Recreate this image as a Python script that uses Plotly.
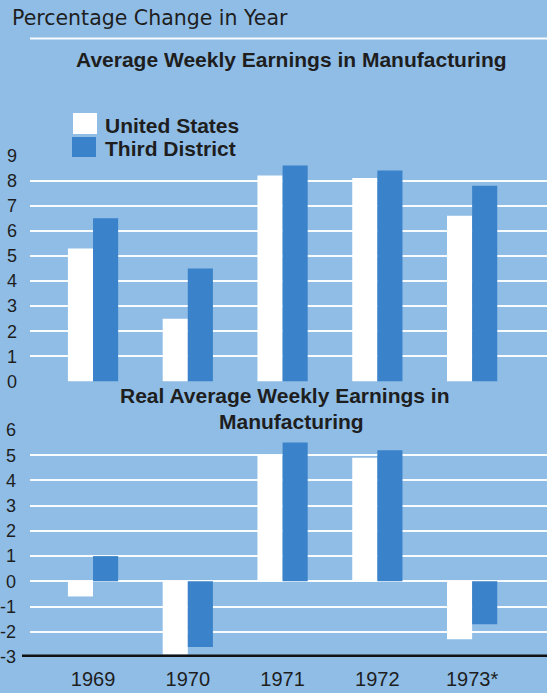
import plotly.graph_objects as go

# Percentage change in year, manufacturing earnings
years = ["1969", "1970", "1971", "1972", "1973*"]
us_nominal = [5.3, 2.5, 8.2, 8.1, 6.6]
td_nominal = [6.5, 4.5, 8.6, 8.4, 7.8]
us_real = [-0.6, -2.9, 5.0, 4.9, -2.3]
td_real = [1.0, -2.6, 5.5, 5.2, -1.7]

top_ticks = list(range(0, 10))
bottom_ticks = list(range(-3, 7))
bottom_ticktext = [str(v) for v in bottom_ticks]

BG = "#8fbde6"
BLUE = "#3a82c9"
WHITE = "#ffffff"
INK = "#1e1e1e"
W, H = 547, 693
L = 30


def px_x(x):
    return (x - L) / (W - L)


def px_y(y):
    return 1 - y / H


fig = go.Figure()

fig.add_trace(go.Bar(x=years, y=us_nominal, name="United States",
                     marker=dict(color=WHITE, line=dict(width=0)),
                     xaxis="x", yaxis="y", showlegend=False))
fig.add_trace(go.Bar(x=years, y=td_nominal, name="Third District",
                     marker=dict(color=BLUE, line=dict(width=0)),
                     xaxis="x", yaxis="y", showlegend=False))
fig.add_trace(go.Bar(x=years, y=us_real, name="United States",
                     marker=dict(color=WHITE, line=dict(width=0)),
                     xaxis="x2", yaxis="y2", showlegend=False))
fig.add_trace(go.Bar(x=years, y=td_real, name="Third District",
                     marker=dict(color=BLUE, line=dict(width=0)),
                     xaxis="x2", yaxis="y2", showlegend=False))

xrange = [-0.665, 4.79]
grid = dict(showgrid=True, gridcolor="rgba(255,255,255,0.95)", gridwidth=2,
            zeroline=False, showline=False, ticks="", automargin=False,
            tickfont=dict(family="Liberation Sans", size=18, color=INK))

fig.update_layout(
    width=W, height=H,
    margin=dict(l=L, r=0, t=0, b=0),
    paper_bgcolor=BG, plot_bgcolor=BG,
    barmode="group", bargap=0.47, bargroupgap=0,
    xaxis=dict(domain=[0, 1], anchor="y", range=xrange, showticklabels=False,
               showgrid=False, zeroline=False, showline=False, ticks="",
               automargin=False),
    yaxis=dict(domain=[px_y(381.5), px_y(155.5)], anchor="x", range=[0, 9],
               tickvals=top_ticks, ticklabelstandoff=12, **grid),
    xaxis2=dict(domain=[0, 1], anchor="y2", range=xrange,
                showgrid=False, zeroline=False, showline=False, ticks="",
                ticklabelstandoff=8, automargin=False,
                tickfont=dict(family="Liberation Sans", size=20, color=INK)),
    yaxis2=dict(domain=[px_y(657), px_y(430)], anchor="x2", range=[-3, 6],
                tickvals=bottom_ticks, ticktext=bottom_ticktext,
                ticklabelstandoff=13, **grid),
)

shapes = [
    # rule under the header
    dict(type="line", xref="paper", yref="paper", x0=px_x(30), x1=1,
         y0=px_y(38.5), y1=px_y(38.5), line=dict(color="rgba(255,255,255,0.95)", width=2)),
    # heavy base rule of the lower panel
    dict(type="line", xref="paper", yref="y2", x0=px_x(22), x1=1,
         y0=-3, y1=-3, line=dict(color="#111111", width=5), layer="above"),
    # legend swatches
    dict(type="rect", xref="paper", yref="paper", x0=px_x(73), x1=px_x(97),
         y0=px_y(134), y1=px_y(113), fillcolor=WHITE, line=dict(width=0)),
    dict(type="rect", xref="paper", yref="paper", x0=px_x(72), x1=px_x(96),
         y0=px_y(157), y1=px_y(137), fillcolor=BLUE, line=dict(width=0)),
]

bold = dict(family="Liberation Sans", size=21, color=INK, weight="bold")
annotations = [
    dict(text="Percentage Change in Year", x=px_x(10), y=px_y(18),
         xanchor="left", yanchor="middle",
         font=dict(family="DejaVu Sans", size=20.5, color=INK)),
    dict(text="<b>Average Weekly Earnings in Manufacturing</b>", x=px_x(291.5), y=px_y(59),
         xanchor="center", yanchor="middle", font=bold),
    dict(text="<b>United States</b>", x=px_x(103), y=px_y(125),
         xanchor="left", yanchor="middle", font=bold),
    dict(text="<b>Third District</b>", x=px_x(103), y=px_y(148.5),
         xanchor="left", yanchor="middle", font=bold),
    dict(text="<b>Real Average Weekly Earnings in</b>", x=px_x(285), y=px_y(395.5),
         xanchor="center", yanchor="middle", font=bold),
    dict(text="<b>Manufacturing</b>", x=px_x(291), y=px_y(421),
         xanchor="center", yanchor="middle", font=bold),
]
for a in annotations:
    a.update(xref="paper", yref="paper", showarrow=False)

fig.update_layout(shapes=shapes, annotations=annotations)

fig.write_html("out.html")
